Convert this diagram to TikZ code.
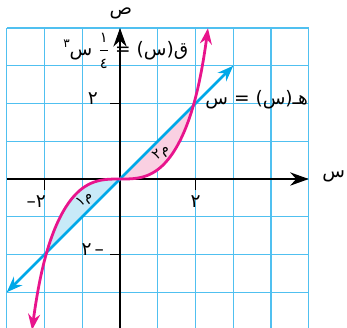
\documentclass[tikz,border=0pt]{standalone}
\usepackage{fontspec}
\usetikzlibrary{arrows.meta}
\newfontfamily\arabicfont[Script=Arabic]{DejaVu Sans}
\TeXXeTstate=1
\definecolor{gridc}{RGB}{80,192,240}
\definecolor{linec}{RGB}{0,168,232}
\definecolor{curvec}{RGB}{232,20,140}
\definecolor{bluefill}{RGB}{200,234,248}
\definecolor{pinkfill}{RGB}{250,208,226}
\begin{document}
\begin{tikzpicture}[x=1cm,y=1cm,
  declare function={g(\x)=\x*\x*\x/4+0.838*(\x/2.33)*((\x/2.33)^2)^5;},
  gridline/.style={gridc,line width=1.1pt},
  axisline/.style={black,line width=1.5pt},
  axisarrow/.style={axisline,-{Stealth[length=14pt,width=10pt]}},
  tickline/.style={black,line width=1.2pt},
  lbl/.style={font=\arabicfont\fontsize{14}{16}\selectfont,inner sep=1pt},
  hline/.style={linec,line width=2.1pt,{Stealth[length=12pt,width=9pt]}-{Stealth[length=12pt,width=9pt]}},
  fcurve/.style={curvec,line width=2.1pt,{Stealth[length=12pt,width=9pt]}-{Stealth[length=12pt,width=9pt]}},
  reglbl/.style={font=\arabicfont\fontsize{11}{13}\selectfont,inner sep=0pt,rotate=38}
]
\useasboundingbox (-3.179,-3.921) rectangle (6.013,4.742);
% grid
\foreach \i in {-3,...,5} \draw[gridline] (\i,-3.95) -- (\i,4);
\foreach \j in {-3,...,4} \draw[gridline] (-3,\j) -- (5,\j);
% fills
\fill[bluefill] (0,0) -- plot[domain=0:-1.942,samples=40] (\x,{g(\x)}) -- cycle;
\fill[pinkfill] (0,0) -- plot[domain=0:1.942,samples=40] (\x,{g(\x)}) -- cycle;
% axes
\coordinate (xs) at (-3,0);
\coordinate (xe) at (5,0);
\coordinate (ys) at (0,-3.95);
\coordinate (ye) at (0,4);
\draw[axisarrow] (xs) -- (xe);
\draw[axisarrow] (ys) -- (ye);
% ticks
\coordinate (tx1) at (2,0); \coordinate (tx1b) at (2,-0.29);
\coordinate (tx2) at (-2,0); \coordinate (tx2b) at (-2,-0.29);
\coordinate (ty1) at (0,2); \coordinate (ty1b) at (-0.27,2);
\coordinate (ty2) at (0,-2); \coordinate (ty2b) at (-0.27,-2);
\draw[tickline] (tx1) -- (tx1b);
\draw[tickline] (tx2) -- (tx2b);
\draw[tickline] (ty1) -- (ty1b);
\draw[tickline] (ty2) -- (ty2b);
% tick labels
\node[lbl] (lx1) at (2,-0.6) {٢};
\node[lbl] (lx2) at (-2.22,-0.6) {٢–};
\node[lbl] (ly1) at (-0.72,2.12) {٢};
\node[lbl] (ly2) at (-0.72,-1.86) {٢\,–};
% axis labels
\node[lbl] (ylab) at (0.02,4.38) {ص};
\node[lbl] (xlab) at (5.66,0.08) {س};
% graphs
\coordinate (hs) at (-3,-3);
\coordinate (he) at (3,3);
\draw[hline] (hs) -- (he);
\draw[fcurve] plot[domain=-2.33:2.33,samples=120,smooth] (\x,{g(\x)});
% function labels
\node[lbl,anchor=east] (hlab) at (5.02,2.1) {\beginR هـ(س) = س\endR};
\node[lbl,anchor=east] (flab) at (1.85,3.4) {\beginR ق(س) = $\displaystyle\frac{\hbox{\arabicfont\fontsize{11}{12}\selectfont ١}}{\hbox{\arabicfont\fontsize{11}{12}\selectfont ٤}}$ س\raisebox{6pt}{\fontsize{9}{10}\selectfont ٣}\endR};
% region labels
\node[reglbl] (m1) at (-0.93,-0.56) {\beginR م١\endR};
\node[reglbl] (m2) at (1.1,0.7) {\beginR م٢\endR};
\end{tikzpicture}
\end{document}
